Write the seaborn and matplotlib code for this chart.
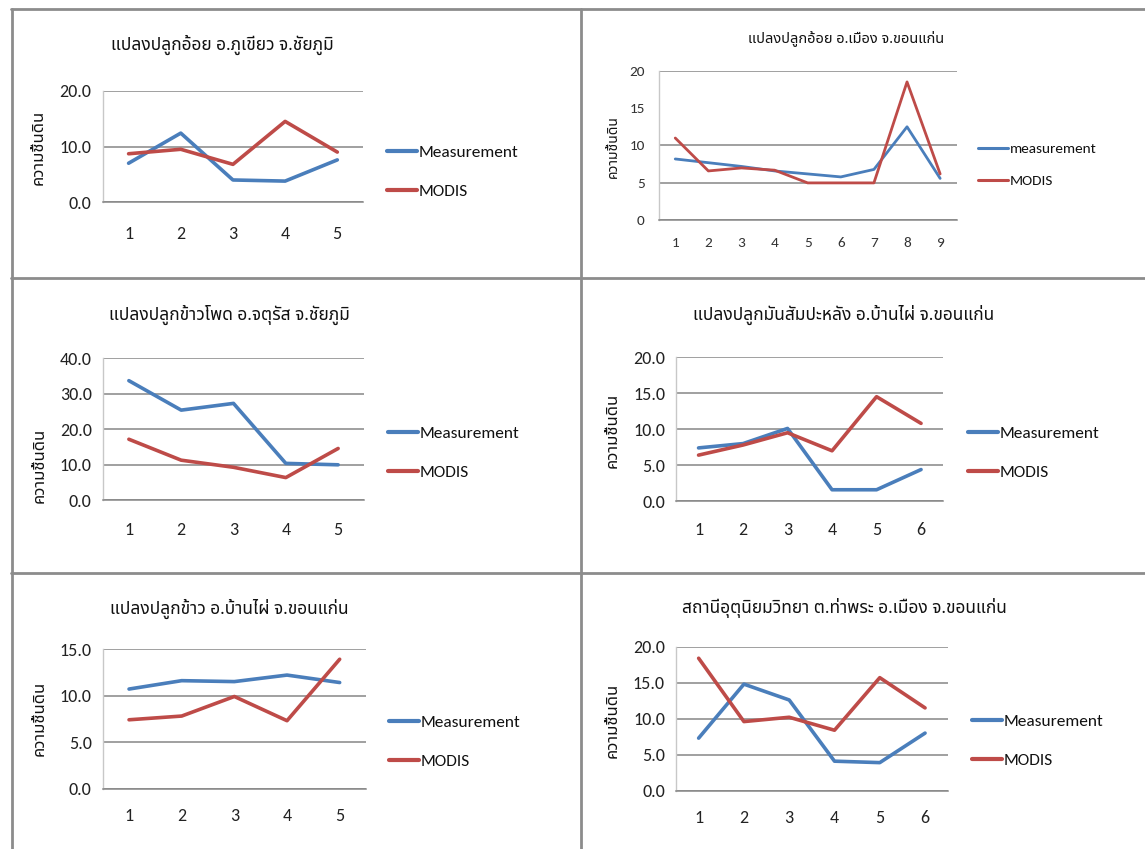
import matplotlib
matplotlib.use("Agg")
import matplotlib.pyplot as plt
from matplotlib import font_manager
from matplotlib.ft2font import FT2Font
from matplotlib.lines import Line2D
import seaborn as sns
import pandas as pd

# ---------------- data ----------------
titles = [
    "แปลงปลูกอ้อย อ.ภูเขียว จ.ชัยภูมิ",
    "แปลงปลูกอ้อย อ.เมือง จ.ขอนแก่น",
    "แปลงปลูกข้าวโพด อ.จตุรัส จ.ชัยภูมิ",
    "แปลงปลูกมันสัมปะหลัง อ.บ้านไผ่ จ.ขอนแก่น",
    "แปลงปลูกข้าว อ.บ้านไผ่ จ.ขอนแก่น",
    "สถานีอุตุนิยมวิทยา ต.ท่าพระ อ.เมือง จ.ขอนแก่น",
]
ylabel = "ความชื้นดิน"
legend_labels = [
    ["Measurement", "MODIS"],
    ["measurement", "MODIS"],
    ["Measurement", "MODIS"],
    ["Measurement", "MODIS"],
    ["Measurement", "MODIS"],
    ["Measurement", "MODIS"],
]

meas1 = [7.0, 12.4, 4.0, 3.8, 7.6]
modis1 = [8.7, 9.5, 6.8, 14.5, 9.0]

meas2 = [8.2, 7.7, 7.2, 6.6, 6.2, 5.8, 6.8, 12.5, 5.6]
modis2 = [11.0, 6.6, 7.0, 6.7, 5.0, 5.0, 5.0, 18.5, 6.2]

meas3 = [33.7, 25.4, 27.3, 10.4, 10.0]
modis3 = [17.2, 11.3, 9.3, 6.4, 14.6]

meas4 = [7.4, 8.0, 10.1, 1.6, 1.6, 4.4]
modis4 = [6.4, 7.8, 9.5, 7.0, 14.5, 10.8]

meas5 = [10.7, 11.6, 11.5, 12.2, 11.4]
modis5 = [7.4, 7.8, 9.9, 7.3, 13.9]

meas6 = [7.3, 14.8, 12.6, 4.1, 3.9, 8.0]
modis6 = [18.4, 9.6, 10.2, 8.4, 15.7, 11.5]

yticks = [
    [0, 10, 20],
    [0, 5, 10, 15, 20],
    [0, 10, 20, 30, 40],
    [0, 5, 10, 15, 20],
    [0, 5, 10, 15],
    [0, 5, 10, 15, 20],
]
yfmt = ["{:.1f}", "{:.0f}", "{:.1f}", "{:.1f}", "{:.1f}", "{:.1f}"]

series = [(meas1, modis1), (meas2, modis2), (meas3, modis3),
          (meas4, modis4), (meas5, modis5), (meas6, modis6)]

# ---------------- styling ----------------
sns.set_theme(style="white")

def find_font(codepoint, preferred):
    names = {f.name for f in font_manager.fontManager.ttflist}
    for p in preferred:
        if p in names:
            try:
                path = font_manager.findfont(p, fallback_to_default=False)
                if codepoint in FT2Font(path).get_charmap():
                    return p
            except Exception:
                pass
    for f in font_manager.fontManager.ttflist:
        try:
            if codepoint in FT2Font(f.fname).get_charmap():
                return f.name
        except Exception:
            continue
    return None

thai_font = find_font(0x0E01, ["Tahoma", "Noto Sans Thai", "Noto Sans Thai UI",
                               "Loma", "Garuda", "Norasi", "Sarabun", "Kinnari",
                               "Waree", "Umpush", "Laksaman", "TlwgTypo"])
names = {f.name for f in font_manager.fontManager.ttflist}
num_font = "DejaVu Sans"
for cand in ["Carlito", "Liberation Sans Narrow", "Roboto Condensed",
             "Open Sans Condensed", "Lato"]:
    if cand in names:
        num_font = cand
        break
fam_thai = [thai_font, "DejaVu Sans"] if thai_font else ["DejaVu Sans"]
plt.rcParams["font.family"] = [num_font, "DejaVu Sans"]

BLUE = "#4a7ebb"
RED = "#be4b48"
GRID = "#868686"

W, H = 1145, 849
fig = plt.figure(figsize=(W / 100, H / 100), dpi=100)
fig.patch.set_facecolor("white")

# panel layout in pixel coords (left, top, right, bottom) of plot area
axes_px = [
    (102.5, 90.7, 363.4, 202.3),
    (658.7, 70.7, 956.7, 220.3),
    (102.7, 358.3, 364.3, 500.3),
    (676.3, 357.0, 943.3, 501.3),
    (102.7, 649.0, 366.0, 788.7),
    (676.0, 646.7, 947.7, 790.7),
]
title_px = [(222, 45), (846, 38), (229, 315), (844, 315), (229, 609), (844, 608)]
ylabel_px = [(39, 147), (613, 147), (40, 465), (613, 430), (40, 718), (613, 720)]
legend_px = [(387, 172), (978, 165), (388, 453), (968, 453), (389, 742), (972, 741)]
xtick_y = [240, 248, 536, 536, 822, 824]
small = [False, True, False, False, False, False]

for i in range(6):
    l, t, r, b = axes_px[i]
    ax = fig.add_axes([l / W, 1 - b / H, (r - l) / W, (b - t) / H])
    m, d = series[i]
    n = len(m)
    xs = list(range(1, n + 1))
    df = pd.DataFrame({
        "x": xs + xs,
        "v": list(m) + list(d),
        "s": [legend_labels[i][0]] * n + [legend_labels[i][1]] * n,
    })
    lw = 2.0 if small[i] else 2.6
    sns.lineplot(data=df, x="x", y="v", hue="s",
                 palette={legend_labels[i][0]: BLUE, legend_labels[i][1]: RED},
                 linewidth=lw, ax=ax, legend=False, sort=False)
    ax.set_xlim(0.5, n + 0.5)
    yt = yticks[i]
    ax.set_ylim(yt[0], yt[-1])
    ax.set_yticks(yt)
    ax.set_yticklabels([yfmt[i].format(v) for v in yt])
    ax.set_xticks(xs)
    ax.set_xticklabels([str(v) for v in xs])
    ax.set_xlabel("")
    ax.set_ylabel("")
    ax.yaxis.grid(True, color=GRID, linewidth=1.1)
    ax.xaxis.grid(False)
    ax.set_axisbelow(True)
    for sp in ["top", "right"]:
        ax.spines[sp].set_visible(False)
    ax.spines["left"].set_color("#c8c8c8")
    ax.spines["left"].set_linewidth(1.0)
    ax.spines["bottom"].set_color(GRID)
    ax.spines["bottom"].set_linewidth(1.1)
    if small[i]:
        tfs, lfs, ttl = 11, 11, 10.5
        tcol = "#333333"
    else:
        tfs, lfs, ttl = 13, 12.5, 12.5
        tcol = "#222222"
    ax.tick_params(axis="both", length=0, labelsize=tfs, colors=tcol)
    ax.tick_params(axis="y", pad=8 if not small[i] else 10)
    xpad = (xtick_y[i] - b) * 72 / 100 - tfs * 0.75
    ax.tick_params(axis="x", pad=xpad)
    if i == 1:
        ax.get_ygridlines()[3].set_visible(False)

    tx, ty = title_px[i]
    fig.text(tx / W, 1 - ty / H, titles[i], ha="center", va="center",
             fontsize=ttl, family=fam_thai, color="#111111")
    yx, yy = ylabel_px[i]
    fig.text(yx / W, 1 - yy / H, ylabel, ha="center", va="center",
             rotation=90, fontsize=12 if not small[i] else 10,
             fontweight="bold", family=fam_thai, color="#111111")

    handles = [Line2D([], [], color=BLUE, linewidth=3 if not small[i] else 2.2),
               Line2D([], [], color=RED, linewidth=3 if not small[i] else 2.2)]
    lx, ly = legend_px[i]
    fig.legend(handles, legend_labels[i], loc="center left",
               bbox_to_anchor=(lx / W, 1 - ly / H), bbox_transform=fig.transFigure,
               frameon=False, fontsize=lfs, handlelength=30 / (lfs * 100 / 72),
               handletextpad=0.1,
               labelspacing=1.4 if not small[i] else 1.25, borderpad=0,
               borderaxespad=0, labelcolor="#111111")

# panel frame lines (figure decoration)
BORDER = "#8c8c8c"
def hline(y, x0, x1):
    fig.add_artist(Line2D([x0 / W, x1 / W], [1 - y / H, 1 - y / H],
                          color=BORDER, linewidth=2.0, transform=fig.transFigure))
def vline(x, y0, y1):
    fig.add_artist(Line2D([x / W, x / W], [1 - y0 / H, 1 - y1 / H],
                          color=BORDER, linewidth=2.0, transform=fig.transFigure))

hline(9, 11, W)
hline(277.5, 11, W)
hline(572.5, 11, W)
vline(11.5, 9, H)
vline(580.5, 9, H)

fig.savefig("out.png", dpi=100, facecolor="white")
